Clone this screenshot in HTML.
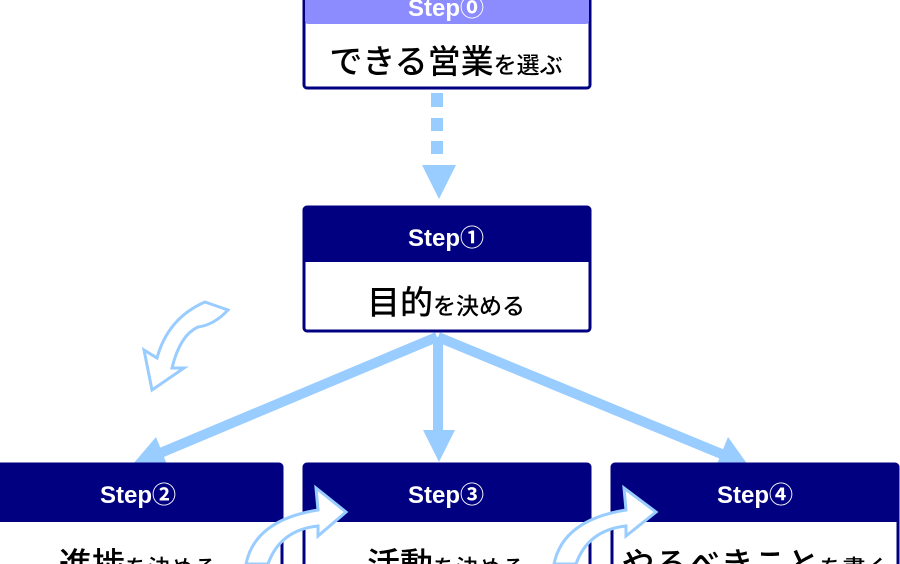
<!DOCTYPE html>
<html><head><meta charset="utf-8"><style>
html,body{margin:0;padding:0;background:#fff;width:900px;height:564px;overflow:hidden}
svg{display:block}
.st{font-family:"Liberation Sans","Noto Sans CJK JP",sans-serif;fill:#fff;font-size:24px;font-weight:bold}
.bd{font-family:"Liberation Sans","Noto Sans CJK JP",sans-serif;fill:#000;font-weight:500}
</style></head><body>
<svg width="900" height="564" viewBox="0 0 900 564" xmlns="http://www.w3.org/2000/svg">
<rect x="304" y="-10" width="286" height="98" rx="3" fill="#fff" stroke="#000080" stroke-width="3"/>
<rect x="305" y="-10" width="284" height="34" rx="3" fill="#8c8cff"/>
<text x="446" y="16" text-anchor="middle" class="st">Step⓪</text>
<text x="446" y="73" text-anchor="middle" class="bd"><tspan font-size="33">できる営業</tspan><tspan font-size="23">を選ぶ</tspan></text>
<g fill="#99ccff">
<rect x="431" y="93" width="12" height="14"/>
<rect x="431" y="118" width="12" height="13"/>
<rect x="431" y="141" width="12" height="13"/>
<polygon points="422,165 456,165 439,199"/>
</g>
<rect x="304" y="207" width="286" height="124" rx="3" fill="#fff" stroke="#000080" stroke-width="3"/>
<path d="M304,262 V210 a3,3 0 0 1 3,-3 H587 a3,3 0 0 1 3,3 V262 Z" fill="#000080"/>
<text x="446" y="246" text-anchor="middle" class="st">Step①</text>
<text x="446" y="314" text-anchor="middle" class="bd"><tspan font-size="33">目的</tspan><tspan font-size="23">を決める</tspan></text>
<g stroke="#99ccff" stroke-width="10" fill="none">
<line x1="437" y1="337" x2="158" y2="454"/>
<line x1="438" y1="337" x2="438" y2="430"/>
<line x1="438" y1="337" x2="724" y2="455"/>
</g>
<g fill="#99ccff">
<polygon points="133,464 156,437 168,467"/>
<polygon points="423,430 455,430 439,462"/>
<polygon points="748,465 715,469 728,437"/>
</g>
<rect x="-10" y="464" width="292" height="120" rx="3" fill="#fff" stroke="#000080" stroke-width="3"/>
<path d="M-10,522 V467 a3,3 0 0 1 3,-3 H279 a3,3 0 0 1 3,3 V522 Z" fill="#000080"/>
<text x="138" y="503" text-anchor="middle" class="st">Step②</text>
<text x="138" y="576" text-anchor="middle" class="bd"><tspan font-size="33">進捗</tspan><tspan font-size="23">を決める</tspan></text>
<rect x="304" y="464" width="286" height="120" rx="3" fill="#fff" stroke="#000080" stroke-width="3"/>
<path d="M304,522 V467 a3,3 0 0 1 3,-3 H587 a3,3 0 0 1 3,3 V522 Z" fill="#000080"/>
<text x="446" y="503" text-anchor="middle" class="st">Step③</text>
<text x="446" y="576" text-anchor="middle" class="bd"><tspan font-size="33">活動</tspan><tspan font-size="23">を決める</tspan></text>
<rect x="612" y="464" width="286" height="120" rx="3" fill="#fff" stroke="#000080" stroke-width="3"/>
<path d="M612,522 V467 a3,3 0 0 1 3,-3 H895 a3,3 0 0 1 3,3 V522 Z" fill="#000080"/>
<text x="755" y="503" text-anchor="middle" class="st">Step④</text>
<text x="755" y="576" text-anchor="middle" class="bd"><tspan font-size="33">やるべきこと</tspan><tspan font-size="23">を書く</tspan></text>
<g fill="#fff" stroke="#99ccff" stroke-width="3" stroke-linejoin="miter">
<path d="M205,302 L228,310 Q214,325 198,327 Q180,335 172,368 L184,368 L152,390 L144,350 L157,358 Q168,318 205,302 Z"/>
<path d="M246,564 Q255,520 318,510 L316,488 L346,512 L318,536 L318,526 Q280,530 268,564 Z"/>
<path d="M554,564 Q563,520 626,510 L624,488 L656,512 L626,536 L626,526 Q588,530 576,564 Z"/>
</g>
</svg>
</body></html>
